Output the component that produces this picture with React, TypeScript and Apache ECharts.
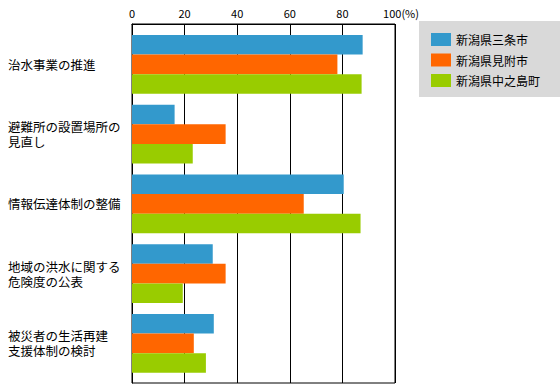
import React, { useEffect, useRef } from "react";
import * as echarts from "echarts";

const categories = [
  "治水事業の推進",
  "避難所の設置場所の\n見直し",
  "情報伝達体制の整備",
  "地域の洪水に関する\n危険度の公表",
  "被災者の生活再建\n支援体制の検討",
];
const seriesNames = ["新潟県三条市", "新潟県見附市", "新潟県中之島町"];
const sanjo = [87.7, 16.2, 80.5, 30.7, 31.1];
const mitsuke = [78.1, 35.6, 65.3, 35.6, 23.5];
const nakanoshima = [87.3, 23.1, 86.9, 19.3, 28.1];
const colors = ["#3399cc", "#ff6600", "#99cc00"];
const xTicks = { min: 0, max: 100, interval: 20 };

const FONT = "'Noto Sans CJK JP', 'Noto Sans', sans-serif";

export default function App() {
  const ref = useRef<HTMLDivElement>(null);
  useEffect(() => {
    document.body.style.margin = "0";
    if (!ref.current) return;
    const chart = echarts.init(ref.current, null, { renderer: "svg" });
    const values = [sanjo, mitsuke, nakanoshima];
    chart.setOption({
      animation: false,
      backgroundColor: "#ffffff",
      textStyle: { fontFamily: FONT },
      legend: {
        orient: "vertical",
        left: 419,
        top: 21,
        backgroundColor: "#d9d9d9",
        padding: [12, 22, 10, 12],
        itemWidth: 20,
        itemHeight: 13,
        itemGap: 7.5,
        icon: "rect",
        textStyle: { fontSize: 12, color: "#000", fontFamily: FONT },
        data: seriesNames,
      },
      grid: [
        {
          left: 132,
          top: 24,
          width: 263,
          height: 359,
          show: true,
          borderColor: "#000",
          borderWidth: 1,
          backgroundColor: "transparent",
        },
        { left: 132, top: 29.5, width: 263, height: 348.75 },
      ],
      xAxis: [
        {
          gridIndex: 0,
          type: "value",
          position: "top",
          min: xTicks.min,
          max: xTicks.max,
          interval: xTicks.interval,
          axisLine: { show: true, lineStyle: { color: "#000" } },
          axisTick: { show: false },
          axisLabel: {
            margin: 6,
            fontSize: 11,
            color: "#000",
            fontFamily: FONT,
            formatter: (v: number) => (v === 100 ? "{p|}100(%)" : String(v)),
            rich: { p: { width: 12 } },
          },
          splitLine: { show: true, lineStyle: { color: "#000", width: 1 } },
        },
        {
          gridIndex: 1,
          type: "value",
          min: xTicks.min,
          max: xTicks.max,
          interval: xTicks.interval,
          show: false,
        },
      ],
      yAxis: [
        {
          gridIndex: 0,
          type: "category",
          inverse: true,
          data: categories,
          axisLine: { show: true, lineStyle: { color: "#000" } },
          axisTick: { show: false },
          axisLabel: { show: false },
          splitLine: { show: false },
        },
        {
          gridIndex: 1,
          type: "category",
          inverse: true,
          data: categories,
          axisLine: { show: false },
          axisTick: { show: false },
          axisLabel: {
            align: "left",
            margin: 124,
            fontSize: 12.5,
            lineHeight: 15,
            color: "#000",
            fontFamily: FONT,
          },
        },
      ],
      series: seriesNames.map((name, i) => ({
        name,
        type: "bar",
        xAxisIndex: 1,
        yAxisIndex: 1,
        data: values[i],
        barWidth: 19.6,
        barGap: "0%",
        itemStyle: { color: colors[i] },
      })),
    });
    return () => chart.dispose();
  }, []);
  return <div ref={ref} style={{ width: 560, height: 390 }} />;
}
